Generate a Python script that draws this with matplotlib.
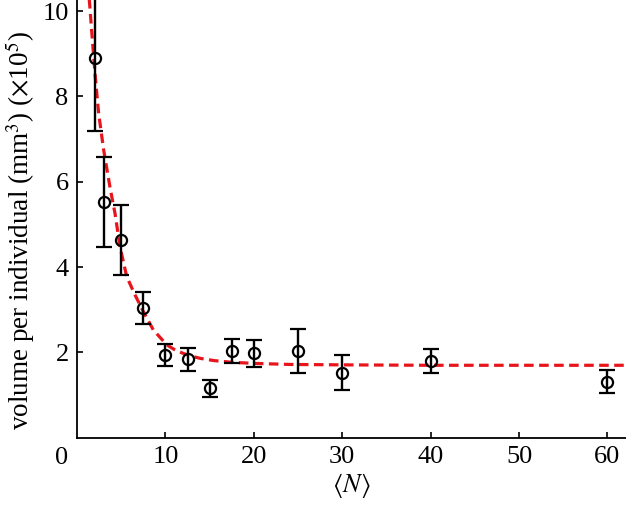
import matplotlib
matplotlib.use("Agg")
import matplotlib.pyplot as plt

# measured group volumes (x 1e5 mm^3) against mean group size
group_size = [2, 3, 5, 7.5, 10, 12.5, 15, 17.5, 20, 25, 30, 40, 60]
volume = [8.9, 5.53, 4.64, 3.04, 1.94, 1.84, 1.16, 2.04, 1.98, 2.04, 1.52, 1.80, 1.32]
volume_err = [1.72, 1.06, 0.82, 0.38, 0.25, 0.27, 0.20, 0.28, 0.32, 0.52, 0.41, 0.28, 0.27]

# fitted curve
fit_x = [1.25, 1.44, 1.77, 2.07, 2.45, 3.02, 3.75, 4.30, 4.86, 5.62, 6.56, 7.5,
         8.63, 10.15, 11.0, 12.0, 13.0, 14.0, 15.5, 17.5, 20, 24, 30, 40, 62.5]
fit_y = [10.6, 10.14, 9.24, 8.46, 7.60, 6.74, 5.85, 5.26, 4.48, 3.78, 3.35, 2.96,
         2.53, 2.18, 2.07, 1.98, 1.91, 1.86, 1.81, 1.77, 1.745, 1.72, 1.71, 1.70, 1.70]

x_ticks = [10, 20, 30, 40, 50, 60]
y_ticks = [2, 4, 6, 8, 10]

plt.rcParams["font.family"] = ["Liberation Serif", "DejaVu Serif"]
plt.rcParams["mathtext.fontset"] = "stix"

fig = plt.figure(figsize=(6.26, 5.05), dpi=100)
ax = fig.add_axes([0.123, 0.133, 0.877, 0.867])

ax.plot(fit_x, fit_y, color="#e8141c", linestyle=(0, (3.0, 1.7)), linewidth=2.3, zorder=3)
ax.errorbar(group_size, volume, yerr=volume_err, fmt="o", color="black",
            markerfacecolor="none", markersize=8, markeredgewidth=1.6,
            elinewidth=1.7, capsize=6, capthick=1.7, zorder=4)

ax.set_xlim(0, 62.1)
ax.set_ylim(0, 10.26)
ax.set_xticks(x_ticks)
ax.set_yticks(y_ticks)
ax.tick_params(direction="in", length=4, width=1.2, labelsize=19, pad=6)
ax.text(-0.028, -0.045, "0", transform=ax.transAxes, fontsize=19,
        ha="center", va="center")

for side in ("top", "right"):
    ax.spines[side].set_visible(False)
for side in ("left", "bottom"):
    ax.spines[side].set_linewidth(1.3)

ax.set_xlabel(r"$\langle N\rangle$", fontsize=19, labelpad=2)
ax.set_ylabel(r"volume per individual (mm$^3$) ($\times$10$^5$)", fontsize=19.5)
ax.yaxis.set_label_coords(-0.072, 0.473)

fig.savefig("out.png", dpi=100)
